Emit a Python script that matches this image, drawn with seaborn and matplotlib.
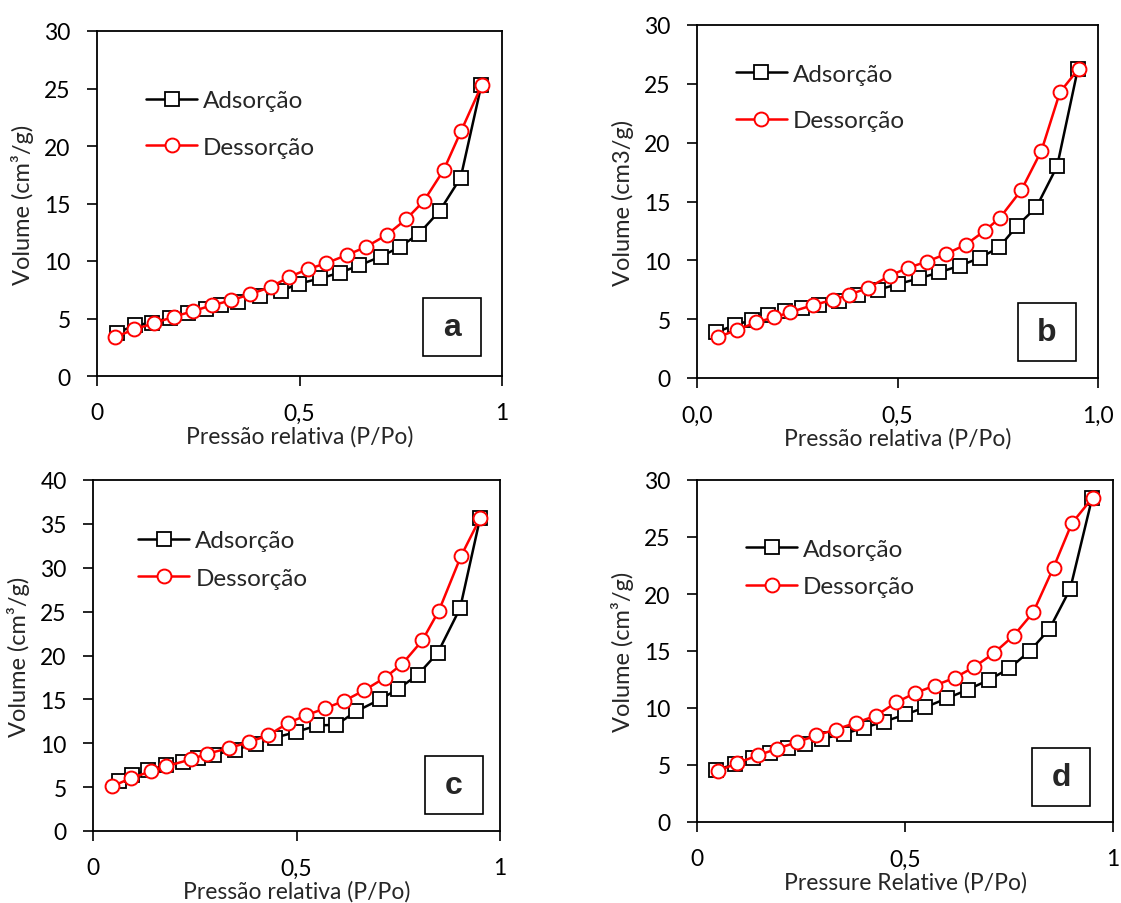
import matplotlib
matplotlib.use("Agg")
import matplotlib.pyplot as plt
import seaborn as sns
from matplotlib.patches import Rectangle

# ---- data (P/Po vs volume) ----
# panel a
a_ads_x = [0.05, 0.093, 0.136, 0.18, 0.225, 0.268, 0.305, 0.347, 0.403, 0.454, 0.499, 0.551, 0.6, 0.648, 0.7, 0.747, 0.795, 0.846, 0.898, 0.949]
a_ads_y = [3.77, 4.4, 4.64, 5.07, 5.45, 5.8, 6.14, 6.43, 6.96, 7.39, 8.03, 8.49, 8.99, 9.62, 10.38, 11.2, 12.38, 14.35, 17.25, 25.3]
a_des_x = [0.045, 0.092, 0.14, 0.19, 0.238, 0.283, 0.332, 0.377, 0.429, 0.474, 0.52, 0.565, 0.617, 0.664, 0.715, 0.763, 0.807, 0.856, 0.899, 0.95]
a_des_y = [3.39, 4.06, 4.58, 5.16, 5.65, 6.14, 6.58, 7.1, 7.74, 8.61, 9.28, 9.8, 10.52, 11.22, 12.26, 13.62, 15.22, 17.91, 21.3, 25.3]

# panel b
b_ads_x = [0.047, 0.095, 0.137, 0.176, 0.22, 0.261, 0.303, 0.353, 0.402, 0.452, 0.502, 0.554, 0.604, 0.656, 0.705, 0.753, 0.799, 0.846, 0.898, 0.95]
b_ads_y = [3.88, 4.5, 4.93, 5.35, 5.67, 5.92, 6.2, 6.57, 7.05, 7.5, 7.99, 8.47, 8.98, 9.55, 10.2, 11.1, 12.95, 14.5, 17.99, 26.3]
b_des_x = [0.052, 0.1, 0.148, 0.193, 0.231, 0.29, 0.338, 0.38, 0.426, 0.481, 0.525, 0.573, 0.621, 0.67, 0.718, 0.755, 0.809, 0.859, 0.905, 0.952]
b_des_y = [3.46, 4.1, 4.73, 5.16, 5.58, 6.2, 6.63, 7.08, 7.65, 8.7, 9.35, 9.89, 10.54, 11.33, 12.52, 13.6, 15.98, 19.32, 24.28, 26.3]

# panel c
c_ads_x = [0.064, 0.096, 0.134, 0.179, 0.22, 0.258, 0.298, 0.348, 0.4, 0.447, 0.498, 0.551, 0.598, 0.646, 0.705, 0.75, 0.798, 0.847, 0.902, 0.951]
c_ads_y = [5.69, 6.34, 6.91, 7.48, 7.86, 8.31, 8.69, 9.26, 9.94, 10.63, 11.27, 12.03, 12.1, 13.62, 14.99, 16.2, 17.8, 20.3, 25.39, 35.64]
c_des_x = [0.047, 0.094, 0.142, 0.179, 0.24, 0.281, 0.334, 0.383, 0.43, 0.48, 0.523, 0.571, 0.616, 0.666, 0.717, 0.76, 0.809, 0.85, 0.904, 0.951]
c_des_y = [5.09, 6.04, 6.79, 7.36, 8.16, 8.8, 9.45, 10.13, 10.89, 12.33, 13.17, 14.0, 14.8, 16.02, 17.46, 19.05, 21.71, 25.12, 31.31, 35.64]

# panel d
d_ads_x = [0.046, 0.091, 0.135, 0.176, 0.218, 0.259, 0.3, 0.353, 0.401, 0.45, 0.501, 0.549, 0.601, 0.651, 0.703, 0.751, 0.801, 0.847, 0.897, 0.95]
d_ads_y = [4.58, 5.05, 5.6, 6.07, 6.48, 6.86, 7.29, 7.73, 8.26, 8.81, 9.43, 10.07, 10.85, 11.61, 12.49, 13.48, 15.03, 16.92, 20.43, 28.45]
d_des_x = [0.05, 0.096, 0.146, 0.192, 0.24, 0.287, 0.333, 0.382, 0.431, 0.479, 0.525, 0.571, 0.619, 0.665, 0.713, 0.761, 0.808, 0.857, 0.901, 0.951]
d_des_y = [4.46, 5.16, 5.84, 6.42, 7.0, 7.59, 8.11, 8.7, 9.34, 10.5, 11.32, 11.96, 12.64, 13.57, 14.79, 16.34, 18.38, 22.32, 26.2, 28.45]

series_labels = ["Adsorção", "Dessorção"]
panel_letters = ["a", "b", "c", "d"]
xlabels = ["Pressão relativa (P/Po)", "Pressão relativa (P/Po)", "Pressão relativa (P/Po)", "Pressure Relative (P/Po)"]
ylabels = ["Volume (cm³/g)", "Volume (cm3/g)", "Volume (cm³/g)", "Volume (cm³/g)"]
xtick_labels = [["0", "0,5", "1"], ["0,0", "0,5", "1,0"], ["0", "0,5", "1"], ["0", "0,5", "1"]]
ymax = [30, 30, 40, 30]

sns.set_style("ticks")
plt.rcParams['font.family'] = ['Lato', 'DejaVu Sans']

fig = plt.figure(figsize=(11.21, 9.04), dpi=100)
W, H = 1121, 904

# axes boxes in pixels (left, top, right, bottom)
boxes = [(97, 32, 502, 377), (697, 26, 1098, 379), (93, 481, 500, 832), (697, 481, 1113, 823)]
legend_pos = [(0.121, 0.730, 1.05), (0.097, 0.795, 1.05), (0.111, 0.774, 0.68), (0.118, 0.743, 0.68)]
letter_pos = [(0.877, 0.142), (0.873, 0.130), (0.887, 0.131), (0.875, 0.132)]

data = [(a_ads_x, a_ads_y, a_des_x, a_des_y),
        (b_ads_x, b_ads_y, b_des_x, b_des_y),
        (c_ads_x, c_ads_y, c_des_x, c_des_y),
        (d_ads_x, d_ads_y, d_des_x, d_des_y)]

for i in range(4):
    l, t, r, b = boxes[i]
    ax = fig.add_axes([l / W, (H - b) / H, (r - l) / W, (b - t) / H])
    ax_w, ax_h = r - l, b - t
    ads_x, ads_y, des_x, des_y = data[i]

    sns.lineplot(x=ads_x, y=ads_y, ax=ax, color="black", lw=1.8, marker="s", markersize=10,
                 markerfacecolor="white", markeredgecolor="black", markeredgewidth=1.3,
                 sort=False, label=series_labels[0], zorder=3)
    sns.lineplot(x=des_x, y=des_y, ax=ax, color="red", lw=1.8, marker="o", markersize=10,
                 markerfacecolor="white", markeredgecolor="red", markeredgewidth=1.4,
                 sort=False, label=series_labels[1], zorder=4)

    ax.set_xlim(0, 1)
    ax.set_ylim(0, ymax[i])
    ax.set_xticks([0, 0.5, 1])
    ax.set_xticklabels(xtick_labels[i])
    ax.set_yticks(range(0, ymax[i] + 1, 5))
    ax.tick_params(direction="out", length=7, width=1.2, pad=12, labelsize=16.5, colors="black")
    for s in ax.spines.values():
        s.set_visible(True)
        s.set_color("black")
        s.set_linewidth(1.3)
    ax.set_xlabel(xlabels[i], fontsize=16.5, labelpad=1)
    ax.set_ylabel(ylabels[i], fontsize=17, labelpad=7)

    lx, ly, lsp = legend_pos[i]
    ax.legend(loc="center left", bbox_to_anchor=(lx, ly), frameon=False, fontsize=17.5,
              borderpad=0, borderaxespad=0, handlelength=2.1, handletextpad=0.25,
              labelspacing=lsp)

    # boxed panel letter
    cx, cy = letter_pos[i]
    bw, bh = 58 / ax_w, 58 / ax_h
    ax.add_patch(Rectangle((cx - bw / 2, cy - bh / 2), bw, bh, transform=ax.transAxes,
                           fill=True, facecolor="white", edgecolor="black", lw=1.2, zorder=5))
    ax.text(cx, cy, panel_letters[i], transform=ax.transAxes, ha="center", va="center",
            fontsize=23, fontweight="bold", family="Liberation Sans", zorder=6)

fig.savefig("out.png", dpi=100)
